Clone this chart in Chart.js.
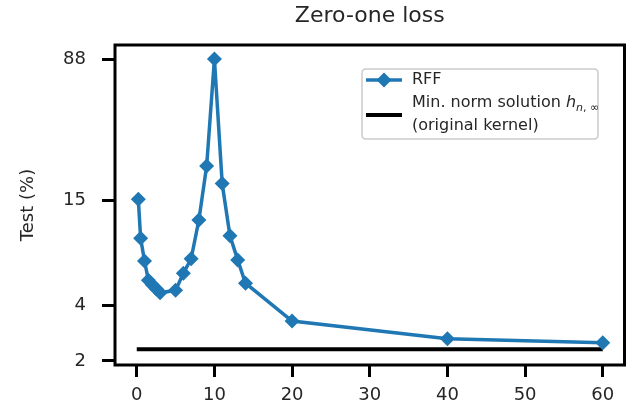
<!DOCTYPE html>
<html>
<head>
<meta charset="utf-8">
<script src="https://cdn.jsdelivr.net/npm/chart.js@4/dist/chart.umd.min.js"></script>
<style>
  html, body { margin: 0; padding: 0; background: #ffffff; }
  #wrap { width: 632px; height: 415px; position: relative; }
</style>
</head>
<body>
<div id="wrap"><canvas id="c" width="632" height="415"></canvas></div>
<script>
// ---- data ----
const xValues = [0.2, 0.5, 1, 1.5, 2, 2.5, 3, 5, 6, 7, 8, 9, 10, 11, 12, 13, 14, 20, 40, 60];
const rffTest = [15.2, 9.3, 7.0, 5.5, 5.2, 4.95, 4.7, 4.85, 6.0, 7.2, 11.7, 23.0, 88, 18.5, 9.6, 7.1, 5.3, 3.3, 2.64, 2.51];
const minNormX = [0, 60];
const minNormTest = [2.32, 2.32];
const yTickValues = [2, 4, 15, 88];
const xTickValues = [0, 10, 20, 30, 40, 50, 60];
const titleText = 'Zero-one loss';
const yLabel = 'Test (%)';
const legendRFF = 'RFF';
const legendMinNorm1 = 'Min. norm solution ';
const legendMinNorm2 = '(original kernel)';

const FONT = 'DejaVu Sans';
const BLUE = '#1f77b4';
const TXT = '#262626';

const framePlugin = {
  id: 'frame',
  afterDraw(chart) {
    const ctx = chart.ctx;
    const a = chart.chartArea;
    ctx.save();
    ctx.strokeStyle = '#000';
    ctx.lineWidth = 3;
    ctx.strokeRect(a.left, a.top, a.right - a.left, a.bottom - a.top);

    // title centred over the plot box
    ctx.fillStyle = TXT;
    ctx.font = '22px "' + FONT + '"';
    ctx.textAlign = 'center';
    ctx.textBaseline = 'middle';
    ctx.fillText(titleText, (a.left + a.right) / 2, 16);

    // legend
    const bx = 362, by = 69, bw = 236, bh = 70, r = 4;
    ctx.beginPath();
    ctx.moveTo(bx + r, by);
    ctx.lineTo(bx + bw - r, by);
    ctx.quadraticCurveTo(bx + bw, by, bx + bw, by + r);
    ctx.lineTo(bx + bw, by + bh - r);
    ctx.quadraticCurveTo(bx + bw, by + bh, bx + bw - r, by + bh);
    ctx.lineTo(bx + r, by + bh);
    ctx.quadraticCurveTo(bx, by + bh, bx, by + bh - r);
    ctx.lineTo(bx, by + r);
    ctx.quadraticCurveTo(bx, by, bx + r, by);
    ctx.closePath();
    ctx.fillStyle = 'rgba(255,255,255,0.8)';
    ctx.fill();
    ctx.strokeStyle = '#cccccc';
    ctx.lineWidth = 1.5;
    ctx.stroke();

    // RFF entry
    const y1 = 80;
    ctx.strokeStyle = BLUE;
    ctx.lineWidth = 3.5;
    ctx.beginPath();
    ctx.moveTo(366, y1); ctx.lineTo(402, y1); ctx.stroke();
    ctx.fillStyle = BLUE;
    ctx.beginPath();
    const mx = 384, mr = 7.5;
    ctx.moveTo(mx, y1 - mr); ctx.lineTo(mx + mr, y1); ctx.lineTo(mx, y1 + mr); ctx.lineTo(mx - mr, y1);
    ctx.closePath(); ctx.fill();

    ctx.fillStyle = TXT;
    ctx.textBaseline = 'middle';
    ctx.textAlign = 'left';
    const LF = 16;
    ctx.font = LF + 'px "' + FONT + '"';
    ctx.fillText(legendRFF, 412, y1);

    // min norm entry
    const y2 = 115;
    ctx.strokeStyle = '#000';
    ctx.lineWidth = 4;
    ctx.beginPath();
    ctx.moveTo(366, y2); ctx.lineTo(402, y2); ctx.stroke();

    ctx.fillStyle = TXT;
    ctx.font = LF + 'px "' + FONT + '"';
    ctx.fillText(legendMinNorm1, 412, 103);
    let w = ctx.measureText(legendMinNorm1).width;
    ctx.font = 'italic ' + LF + 'px "' + FONT + '"';
    ctx.fillText('h', 412 + w, 103);
    let w2 = ctx.measureText('h').width;
    ctx.font = 'italic 11px "' + FONT + '"';
    ctx.fillText('n', 412 + w + w2, 108);
    let w3 = ctx.measureText('n').width;
    ctx.font = '11px "' + FONT + '"';
    ctx.fillText(', \u221E', 412 + w + w2 + w3, 108);
    ctx.font = LF + 'px "' + FONT + '"';
    ctx.fillText(legendMinNorm2, 412, 126);
    ctx.restore();
  }
};

new Chart(document.getElementById('c'), {
  type: 'line',
  data: {
    datasets: [
      {
        label: legendRFF,
        data: xValues.map((x, i) => ({ x: x, y: rffTest[i] })),
        borderColor: BLUE,
        backgroundColor: BLUE,
        borderWidth: 3.5,
        pointStyle: 'rectRot',
        pointRadius: 7.5,
        pointBorderWidth: 0,
        pointBackgroundColor: BLUE,
        tension: 0,
        order: 1
      },
      {
        label: 'Min. norm solution',
        data: minNormX.map((x, i) => ({ x: x, y: minNormTest[i] })),
        borderColor: '#000',
        borderWidth: 4,
        pointRadius: 0,
        tension: 0,
        order: 2
      }
    ]
  },
  options: {
    responsive: false,
    animation: false,
    devicePixelRatio: 1,
    layout: { padding: { left: 0, right: 2, top: 45, bottom: 0 } },
    plugins: {
      legend: { display: false },
      tooltip: { enabled: false },
      title: { display: false }
    },
    scales: {
      x: {
        type: 'linear',
        min: -2.8,
        max: 62.8,
        afterFit: s => { s.height = 50; },
        afterBuildTicks: s => { s.ticks = xTickValues.map(v => ({ value: v })); },
        border: { display: false },
        grid: { display: true, drawOnChartArea: false, drawTicks: true, tickLength: 12, tickWidth: 3, tickColor: '#000', color: '#000' },
        ticks: { color: TXT, font: { family: FONT, size: 18 }, padding: 8, maxRotation: 0, autoSkip: false, callback: v => String(v) }
      },
      y: {
        type: 'logarithmic',
        min: 1.902,
        max: 104.9,
        afterFit: s => { s.width = 115; },
        afterBuildTicks: s => { s.ticks = yTickValues.map(v => ({ value: v })); },
        border: { display: false },
        grid: { display: true, drawOnChartArea: false, drawTicks: true, tickLength: 13, tickWidth: 3, tickColor: '#000', color: '#000' },
        ticks: { color: TXT, font: { family: FONT, size: 18 }, padding: 16, autoSkip: false, callback: v => String(v) },
        title: { display: true, text: yLabel, color: TXT, font: { family: FONT, size: 18 }, padding: { top: 18, bottom: 0 } }
      }
    }
  },
  plugins: [framePlugin]
});
</script>
</body>
</html>
